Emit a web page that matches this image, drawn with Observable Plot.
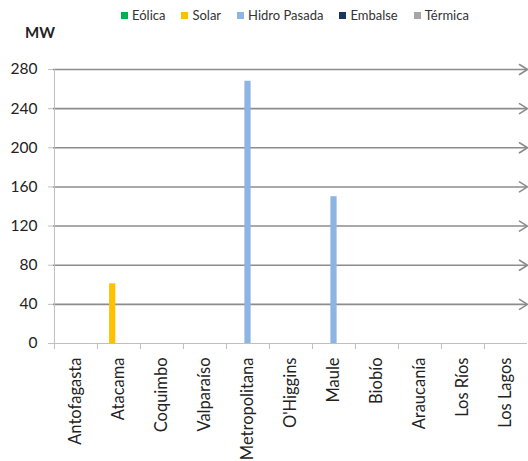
<!DOCTYPE html>
<html><head><meta charset="utf-8">
<script src="https://cdn.jsdelivr.net/npm/d3@7"></script>
<script src="https://cdn.jsdelivr.net/npm/@observablehq/plot@0.6"></script>
<style>
body{margin:0;background:#fff;font-family:Lato,sans-serif;}
#wrap{width:528px;height:461px;overflow:hidden;position:relative;background:#fff;}
#head{position:relative;height:45px;}
#legend{position:absolute;left:121px;top:7px;display:flex;gap:16px;font-size:13px;line-height:16px;color:#333;}
.item{display:flex;align-items:center;}
.sw{width:7px;height:7px;margin-right:4px;}
#mw{position:absolute;left:25px;top:23px;font-weight:bold;font-size:15px;line-height:18px;color:#222;}
</style>
</head><body>
<div id="wrap">
  <div id="head"><div id="legend"></div><div id="mw">MW</div></div>
  <div id="chart"></div>
</div>
<script>
const regions = ["Antofagasta","Atacama","Coquimbo","Valparaíso","Metropolitana","O'Higgins","Maule","Biobío","Araucanía","Los Ríos","Los Lagos"];
const seriesNames = ["Eólica","Solar","Hidro Pasada","Embalse","Térmica"];
const seriesColors = ["#00b050","#ffc000","#8db4e2","#17375e","#a6a6a6"];
const eolica      = [0,0,0,0,0,0,0,0,0,0,0];
const solar       = [0,61,0,0,0,0,0,0,0,0,0];
const hidroPasada = [0,0,0,0,268,0,150,0,0,0,0];
const embalse     = [0,0,0,0,0,0,0,0,0,0,0];
const termica     = [0,0,0,0,0,0,0,0,0,0,0];
const yTicks = [0,40,80,120,160,200,240,280];

const seriesValues = [eolica, solar, hidroPasada, embalse, termica];
const table = regions.flatMap((r,i)=> seriesNames.map((s,j)=>({region:r, series:s, value: seriesValues[j][i]})));

// legend
const leg = document.getElementById("legend");
seriesNames.forEach((s,j)=>{
  const it = document.createElement("div"); it.className="item";
  const sw = document.createElement("div"); sw.className="sw"; sw.style.background=seriesColors[j];
  const tx = document.createElement("span"); tx.textContent=s;
  it.appendChild(sw); it.appendChild(tx); leg.appendChild(it);
});

const W=528, H=416, mL=53, mR=1, mT=24, mB=118;
const step = (W-mL-mR)/regions.length;
const barW = 6.3;
const inset = (step-barW)/2;
const gridC = "#8c8c8c", axisC = "#bfbfbf";

const chevron = {draw(ctx, l){ ctx.moveTo(-5, -l+8); ctx.lineTo(0, -l); ctx.lineTo(5, -l+8); }};

const plot = Plot.plot({
  width: W, height: H, marginLeft: mL, marginRight: mR, marginTop: mT, marginBottom: mB,
  style: {fontFamily: "Lato", background: "white"},
  x: {domain: regions, padding: 0},
  y: {domain: [0, 280]},
  marks: [
    Plot.ruleY(yTicks.filter(d=>d>0), {y: d=>d, stroke: gridC, strokeWidth: 1.6}),
    Plot.vector(yTicks.filter(d=>d>0), {y: d=>d, frameAnchor: "right", rotate: 90, length: 8, anchor: "end", shape: chevron, stroke: gridC, strokeWidth: 1.6}),
    ...seriesNames.map((s,j)=>Plot.barY(table.filter(d=>d.series===s), {x: "region", y: "value", fill: seriesColors[j], dx: (j-2)*barW, insetLeft: inset, insetRight: inset})),
    Plot.ruleY([0], {y: d=>d, stroke: axisC}),
    Plot.ruleX([regions[0]], {x: d=>d, y1: 0, y2: 280, dx: -step/2, stroke: axisC}),
    Plot.ruleX(regions, {x: d=>d, y1: 0, y2: 0, insetBottom: -6, dx: -step/2, stroke: axisC}),
    Plot.axisY(yTicks, {tickSize: 5, tickPadding: 11, stroke: axisC, color: "#222", fill: "#222", fontSize: 15.5, label: null}),
    Plot.axisX({tickSize: 0, tickRotate: -90, tickPadding: 14, color: "#222", fontSize: 16.5, label: null})
  ]
});
document.getElementById("chart").appendChild(plot);
</script>
</body></html>
